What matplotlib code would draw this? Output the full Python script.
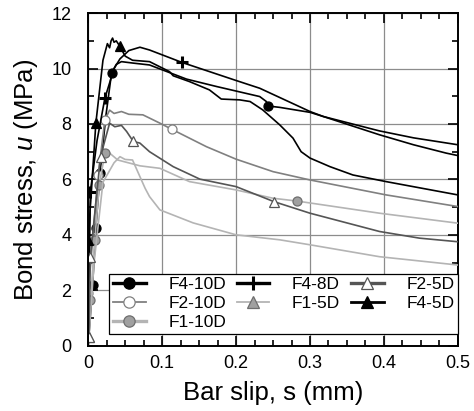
import matplotlib
matplotlib.use("Agg")
import matplotlib.pyplot as plt
from matplotlib.ticker import MultipleLocator

plt.rcParams["font.family"] = ["Liberation Sans", "DejaVu Sans"]
plt.rcParams["mathtext.fontset"] = "custom"
plt.rcParams["mathtext.it"] = "Liberation Sans:italic"
plt.rcParams["mathtext.rm"] = "Liberation Sans"

# data (slip in mm, bond stress in MPa) --------------------------------------
f4_10d_x = [0, 0.006, 0.0104, 0.016, 0.024, 0.0316, 0.038, 0.045, 0.06, 0.083, 0.133,
            0.174, 0.232, 0.241, 0.243, 0.259, 0.3, 0.318, 0.394, 0.44, 0.5]
f4_10d_y = [0, 2.19, 4.24, 6.22, 8.3, 9.83, 10.15, 10.25, 10.2, 10.13, 9.62,
            9.35, 8.99, 8.81, 8.65, 8.6, 8.42, 8.27, 7.75, 7.5, 7.25]
f4_10d_mk = [1, 2, 3, 5, 14]

f4_8d_x = [0, 0.003, 0.012, 0.0226, 0.035, 0.043, 0.055, 0.07, 0.083, 0.127, 0.2,
           0.232, 0.3, 0.318, 0.394, 0.44, 0.484, 0.5]
f4_8d_y = [0, 5.56, 7.4, 8.93, 10.0, 10.35, 10.65, 10.77, 10.67, 10.22, 9.57,
           9.29, 8.45, 8.27, 7.61, 7.25, 6.95, 6.86]
f4_8d_mk = [1, 3, 9]

f4_5d_x = [0, 0.0, 0.0104, 0.02, 0.026, 0.029, 0.031, 0.033, 0.035, 0.038, 0.043,
           0.05, 0.06, 0.083, 0.11, 0.115, 0.137, 0.164, 0.18, 0.205, 0.219, 0.236,
           0.259, 0.277, 0.288, 0.3, 0.327, 0.358, 0.403, 0.5]
f4_5d_y = [0, 3.82, 8.03, 10.3, 10.9, 10.75, 11.0, 11.1, 10.95, 11.0, 10.8,
           10.45, 10.3, 10.25, 9.89, 9.74, 9.53, 9.23, 8.9, 8.87, 8.81, 8.51,
           7.97, 7.49, 7.0, 6.77, 6.46, 6.16, 5.92, 5.44]
f4_5d_mk = [1, 2, 10]

f2_10d_x = [0, 0.0, 0.0135, 0.0226, 0.029, 0.035, 0.045, 0.055, 0.074, 0.097, 0.113,
            0.16, 0.2, 0.25, 0.3, 0.403, 0.5]
f2_10d_y = [0, 1.89, 6.16, 8.15, 8.5, 8.38, 8.45, 8.35, 8.33, 8.03, 7.81,
            7.18, 6.73, 6.28, 5.98, 5.44, 5.02]
f2_10d_mk = [1, 2, 3, 10]

f1_10d_x = [0, 0.003, 0.009, 0.015, 0.0226, 0.029, 0.04, 0.07, 0.097, 0.137, 0.2,
            0.25, 0.282, 0.394, 0.5]
f1_10d_y = [0, 1.65, 3.82, 5.8, 6.94, 6.95, 6.7, 6.49, 6.4, 5.92, 5.62,
            5.32, 5.22, 4.78, 4.42]
f1_10d_mk = [1, 2, 3, 4, 12]

f2_5d_x = [0, 0.001, 0.003, 0.0167, 0.029, 0.036, 0.045, 0.052, 0.061, 0.07, 0.083,
           0.115, 0.151, 0.2, 0.251, 0.3, 0.394, 0.448, 0.5]
f2_5d_y = [0, 0.32, 3.21, 6.82, 8.03, 7.9, 7.95, 7.73, 7.37, 7.31, 7.0,
           6.46, 6.01, 5.74, 5.2, 4.78, 4.12, 3.88, 3.75]
f2_5d_mk = [1, 2, 3, 8, 14]

f1_5d_x = [0, 0.001, 0.008, 0.02, 0.035, 0.043, 0.05, 0.06, 0.068, 0.077, 0.083,
           0.097, 0.142, 0.2, 0.259, 0.3, 0.394, 0.5]
f1_5d_y = [0, 0.3, 3.0, 5.9, 6.6, 6.82, 6.72, 6.7, 6.22, 5.68, 5.38,
           4.9, 4.43, 4.0, 3.82, 3.64, 3.21, 2.91]
f1_5d_mk = [1]

x_ticks = [0, 0.1, 0.2, 0.3, 0.4, 0.5]
x_tick_labels = ["0", "0.1", "0.2", "0.3", "0.4", "0.5"]
y_ticks = [0, 2, 4, 6, 8, 10, 12]
y_tick_labels = ["0", "2", "4", "6", "8", "10", "12"]

# figure ---------------------------------------------------------------------
fig = plt.figure(figsize=(4.74, 4.11), dpi=100)
ax = fig.add_axes([0.186, 0.159, 0.780, 0.809])

DARK = "#555555"
MID = "#808080"
LIGHT = "#b4b4b4"

series = [
    (f4_10d_x, f4_10d_y, f4_10d_mk, "F4-10D", "black", "o", "black", "black"),
    (f2_10d_x, f2_10d_y, f2_10d_mk, "F2-10D", MID, "o", "white", MID),
    (f1_10d_x, f1_10d_y, f1_10d_mk, "F1-10D", LIGHT, "o", "#a0a0a0", "#6e6e6e"),
    (f4_8d_x, f4_8d_y, f4_8d_mk, "F4-8D", "black", "+", "black", "black"),
    (f1_5d_x, f1_5d_y, f1_5d_mk, "F1-5D", LIGHT, "^", "#a0a0a0", "#6e6e6e"),
    (f2_5d_x, f2_5d_y, f2_5d_mk, "F2-5D", DARK, "^", "white", DARK),
    (f4_5d_x, f4_5d_y, f4_5d_mk, "F4-5D", "black", "^", "black", "black"),
]

for x, y, mk, lab, col, m, fc, ec in series:
    if m == "+":
        ax.plot(x, y, color=col, lw=1.2, marker="+", markersize=8, mew=2.2,
                markevery=mk, label=lab, zorder=3)
    else:
        ax.plot(x, y, color=col, lw=1.2, marker=m, markersize=6.5,
                markerfacecolor=fc, markeredgecolor=ec, mew=0.9,
                markevery=mk, label=lab, zorder=3)

ax.set_xlim(0, 0.5)
ax.set_ylim(0, 12)
ax.set_xticks(x_ticks)
ax.set_xticklabels(x_tick_labels, fontsize=13)
ax.set_yticks(y_ticks)
ax.set_yticklabels(y_tick_labels, fontsize=13)
ax.xaxis.set_minor_locator(MultipleLocator(0.025))
ax.yaxis.set_minor_locator(MultipleLocator(1))
ax.tick_params(which="both", direction="in", top=True, right=True, width=1.2)
ax.tick_params(which="major", length=7, pad=7)
ax.tick_params(axis="y", which="major", pad=12)
ax.tick_params(which="minor", length=4.5)
ax.grid(True, which="major", color="#8c8c8c", lw=0.9)
ax.set_axisbelow(True)
for s in ax.spines.values():
    s.set_linewidth(1.4)

ax.set_xlabel("Bar slip, s (mm)", fontsize=18.5, labelpad=6)
ax.set_ylabel(r"Bond stress, $u$ (MPa)", fontsize=18.5, labelpad=8)

leg = ax.legend(ncol=3, loc="lower right", bbox_to_anchor=(1.0, 0.036),
                borderaxespad=0, fontsize=12.5, frameon=True, fancybox=False,
                edgecolor="black", framealpha=1, borderpad=0.2,
                handlelength=1.9, handletextpad=1.3, columnspacing=0.6,
                labelspacing=0.22, markerscale=1.25)
leg.get_frame().set_linewidth(0.9)
for l, w in zip(leg.get_lines(), [2.4, 1.3, 2.4, 2.4, 1.3, 2.4, 2.0]):
    l.set_linewidth(w)

fig.savefig("out.png", dpi=100)
